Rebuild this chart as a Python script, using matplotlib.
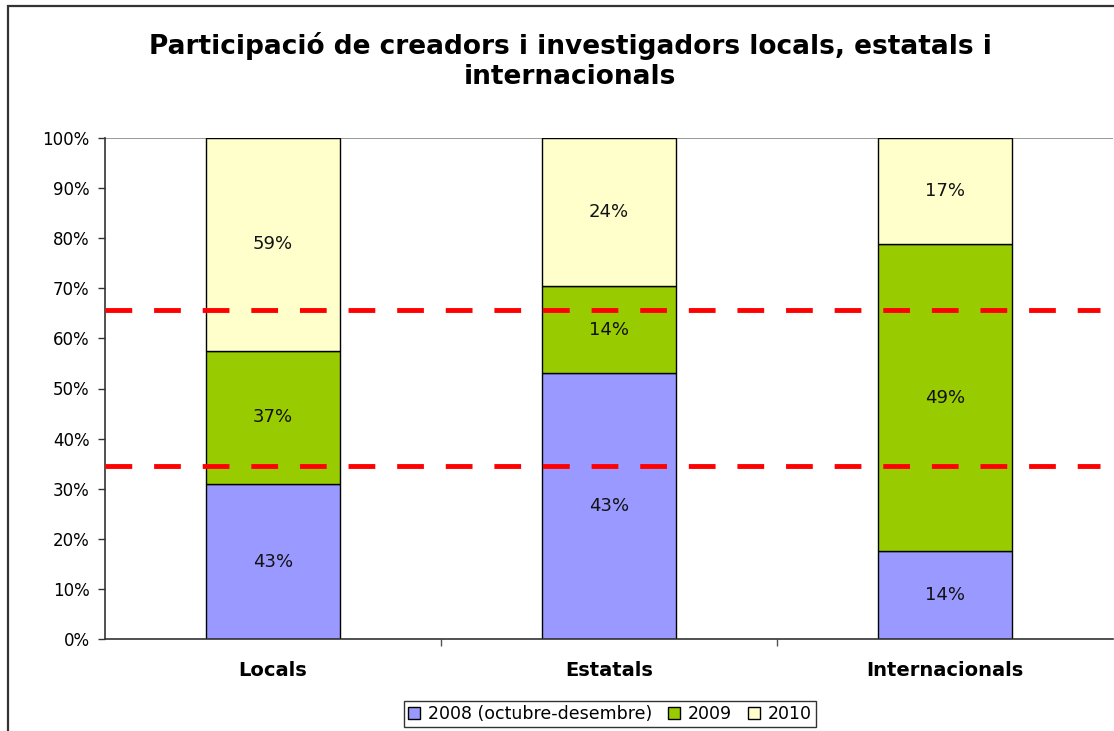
import matplotlib.pyplot as plt
import numpy as np
from matplotlib.patches import Rectangle

categories = ["Locals", "Estatals", "Internacionals"]
series_names = ["2008 (octubre-desembre)", "2009", "2010"]
v2008 = [43, 43, 14]
v2009 = [37, 14, 49]
v2010 = [59, 24, 17]
colors = ["#9999ff", "#99cc00", "#ffffcc"]
ref_lines = [34.5, 65.6]

plt.rcParams["font.family"] = ["DejaVu Sans"]

fig = plt.figure(figsize=(11.14, 7.31), dpi=100)
# outer chart border
fig.patches.append(Rectangle((8 / 1114, -0.05), 1.1, 1 - 6 / 731 + 0.05,
                             transform=fig.transFigure, fill=False,
                             edgecolor="#333333", linewidth=1.6))

ax = fig.add_axes([105 / 1114, 1 - 639 / 731, 1008 / 1114, 501 / 731])

data = np.array([v2008, v2009, v2010], dtype=float)
totals = data.sum(axis=0)
shares = data / totals * 100
x = np.arange(len(categories))

bottom = np.zeros(len(categories))
for i, name in enumerate(series_names):
    bars = ax.bar(x, shares[i], 0.4, bottom=bottom, color=colors[i],
                  edgecolor="black", linewidth=1, label=name, zorder=2)
    for j, b in enumerate(bars):
        ax.text(b.get_x() + b.get_width() / 2, bottom[j] + shares[i][j] / 2,
                f"{data[i][j]:.0f}%", ha="center", va="center", fontsize=13,
                color="#111111", zorder=3)
    bottom += shares[i]

for y in ref_lines:
    ax.plot([-0.5, 2.46], [y, y], color="red", linewidth=3.5,
            linestyle=(0, (5.5, 4.5)), zorder=4, clip_on=False)

ax.set_xlim(-0.5, 2.5)
ax.set_ylim(0, 100)
ax.set_yticks(np.arange(0, 101, 10))
ax.set_yticklabels([f"{t}%" for t in range(0, 101, 10)], fontsize=12)
ax.set_xticks(x)
ax.set_xticklabels(categories, fontsize=14, fontweight="bold")
ax.tick_params(axis="x", length=0, pad=16)
ax.tick_params(axis="y", length=5, width=1, color="#333333", pad=6)
ax.set_xticks([0.5, 1.5], minor=True)
ax.tick_params(axis="x", which="minor", length=5, width=1, color="#555555")

ax.axhline(100, color="#888888", linewidth=1.2, zorder=1)
for s in ["top", "right"]:
    ax.spines[s].set_visible(False)
ax.spines["left"].set_color("#333333")
ax.spines["bottom"].set_color("#333333")
ax.spines["left"].set_linewidth(1.2)
ax.spines["bottom"].set_linewidth(1.2)

fig.text(0.512, 1 - 61 / 731,
         "Participació de creadors i investigadors locals, estatals i\ninternacionals",
         ha="center", va="center", fontsize=19, fontweight="bold",
         linespacing=1.15)

leg = fig.legend(loc="center", bbox_to_anchor=(610 / 1114, 1 - 714 / 731),
                 ncol=3, fontsize=12.5, frameon=True, fancybox=False,
                 edgecolor="black", handlelength=0.7, handleheight=0.7,
                 handletextpad=0.45, columnspacing=0.9, borderpad=0.25)
leg.get_frame().set_linewidth(1)

fig.savefig("out.png", dpi=100)
